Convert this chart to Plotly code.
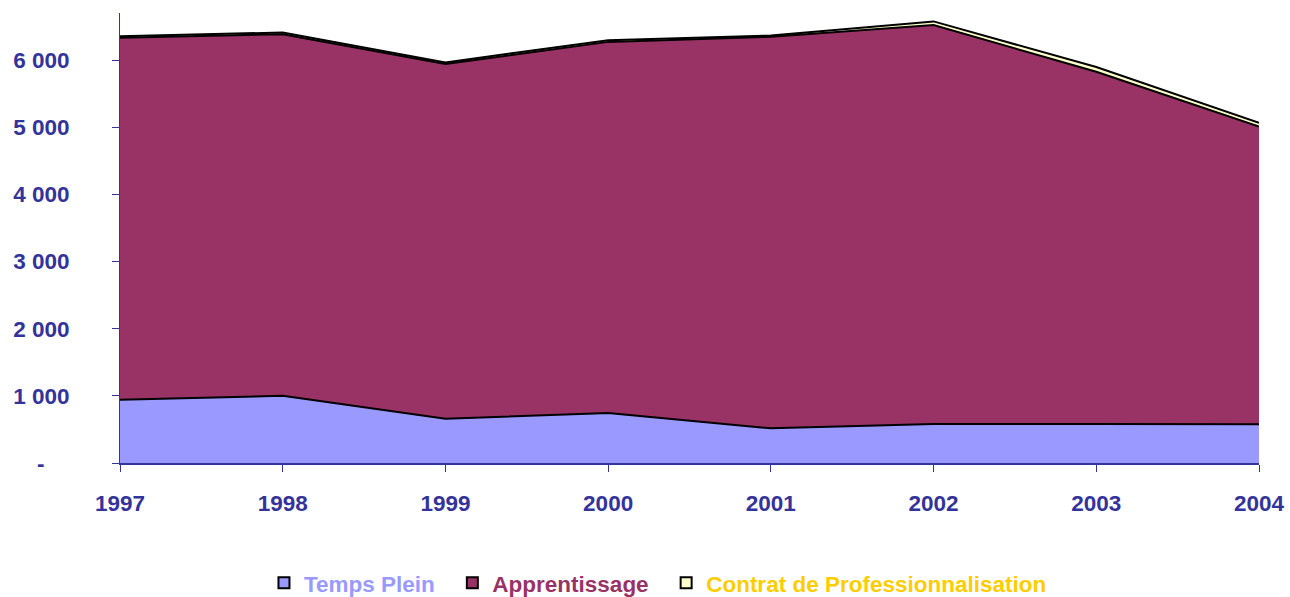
import plotly.graph_objects as go

years = [1997, 1998, 1999, 2000, 2001, 2002, 2003, 2004]
temps_plein = [940, 1000, 660, 745, 517, 580, 580, 576]
apprentissage = [5390, 5385, 5280, 5525, 5828, 5940, 5245, 4434]
contrat_pro = [25, 25, 25, 25, 20, 55, 70, 55]

series_names = ["Temps Plein", "Apprentissage", "Contrat de Professionnalisation"]
fill_colors = ["#9999FF", "#993366", "#FFFFCC"]
text_colors = ["#9999FF", "#993366", "#FFCC00"]

y_tick_vals = [0, 1000, 2000, 3000, 4000, 5000, 6000]
y_tick_text = ["-\u00a0\u00a0\u00a0\u00a0", "1 000", "2 000", "3 000", "4 000", "5 000", "6 000"]

FONT = "Liberation Sans, Arial, sans-serif"
AXIS_C = "#333399"
FS = 22.5
legend_pad = ["\u00a0\u00a0", "\u00a0\u00a0", ""]

fig = go.Figure()
for name, vals, fc in zip(series_names, [temps_plein, apprentissage, contrat_pro], fill_colors):
    fig.add_trace(go.Scatter(
        x=years, y=vals, name=name, showlegend=False,
        mode="lines", stackgroup="one", fillcolor=fc,
        line=dict(color="black", width=2, shape="linear"),
        hoverinfo="x+y",
    ))
# legend entries with square swatches
for name, fc, tc, pad in zip(series_names, fill_colors, text_colors, legend_pad):
    fig.add_trace(go.Scatter(
        x=[None], y=[None], mode="markers",
        name=f"<span style='color:{tc}'>{name}{pad}</span>",
        marker=dict(symbol="square", size=11, color=fc, line=dict(color="black", width=2)),
        showlegend=True,
    ))

fig.update_layout(
    width=1290, height=597,
    margin=dict(l=120, r=31, t=13, b=134, autoexpand=False),
    paper_bgcolor="white", plot_bgcolor="white",
    font=dict(family=FONT, size=FS, color=AXIS_C, weight="bold"),
    showlegend=True,
    legend=dict(orientation="h", x=0.1264, xanchor="left", y=-0.267, yanchor="middle",
                font=dict(family=FONT, size=FS, weight="bold"), itemwidth=30,
                traceorder="normal"),
    xaxis=dict(range=[1997, 2004], tickvals=years, ticktext=[str(y) for y in years],
               showgrid=False, zeroline=False, showline=True, linecolor=AXIS_C, linewidth=2,
               ticks="outside", ticklen=7, tickcolor=AXIS_C, tickwidth=1,
               ticklabelstandoff=12, automargin=False),
    yaxis=dict(range=[0, 6700], tickvals=y_tick_vals, ticktext=y_tick_text,
               showgrid=False, zeroline=False, showline=True, linecolor=AXIS_C, linewidth=1,
               ticks="outside", ticklen=7, tickcolor=AXIS_C, tickwidth=1,
               ticklabelstandoff=38, automargin=False),
)

fig.write_html("out.html", config={"displayModeBar": False},
               post_script="document.body.style.margin='0';document.body.style.overflow='hidden';")
